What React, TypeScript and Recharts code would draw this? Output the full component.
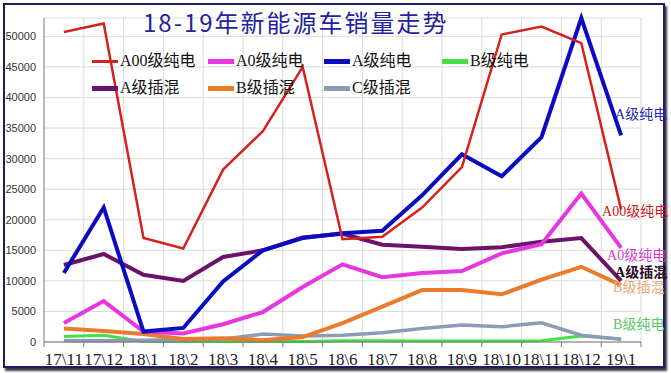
import React from "react"
import {
  LineChart,
  Line,
  XAxis,
  YAxis,
  CartesianGrid,
} from "recharts"

const categories = [
  "17\\11", "17\\12", "18\\1", "18\\2", "18\\3", "18\\4", "18\\5", "18\\6",
  "18\\7", "18\\8", "18\\9", "18\\10", "18\\11", "18\\12", "19\\1",
]

const a00Bev = [50700, 52100, 17000, 15300, 28200, 34500, 45000, 16800, 17200, 22000, 28600, 50300, 51600, 48900, 21700]
const a0Bev = [3100, 6700, 1700, 1400, 2900, 4900, 9000, 12700, 10600, 11300, 11600, 14500, 16000, 24300, 15400]
const aBev = [11300, 22000, 1700, 2300, 9900, 15000, 17000, 17800, 18200, 24000, 30700, 27100, 33500, 53000, 33800]
const bBev = [900, 1100, 100, 100, 100, 100, 100, 200, 200, 150, 150, 150, 200, 1000, 500]
const aPhev = [12600, 14400, 11000, 10000, 13900, 15000, 17100, 17700, 15900, 15600, 15200, 15500, 16400, 17000, 10000]
const bPhev = [2200, 1800, 1300, 500, 600, 300, 800, 3100, 5800, 8500, 8500, 7800, 10200, 12300, 9300]
const cPhev = [200, 200, 300, 400, 500, 1300, 1000, 1100, 1500, 2200, 2800, 2500, 3150, 1100, 450]

const yTicks = [0, 5000, 10000, 15000, 20000, 25000, 30000, 35000, 40000, 45000, 50000]

const W = 671
const H = 373
const MARGIN = { top: 18, right: 30, bottom: 0, left: 0 }
const Y_AXIS_W = 44
const STEP = (W - MARGIN.left - MARGIN.right - Y_AXIS_W) / categories.length

type Series = {
  key: string
  name: string
  color: string
  width: number
  end?: { text: string; color: string; dx: number; dy: number; bold?: boolean }
}

// legend order
const series: Series[] = [
  { key: "a00", name: "A00级纯电", color: "#d42121", width: 2.5, end: { text: "A00级纯电", color: "#c42020", dx: -19, dy: 7 } },
  { key: "a0", name: "A0级纯电", color: "#e636e0", width: 4, end: { text: "A0级纯电", color: "#d63ed0", dx: -14, dy: 12 } },
  { key: "a", name: "A级纯电", color: "#0b0bbf", width: 4, end: { text: "A级纯电", color: "#2a2aa8", dx: -6, dy: -16 } },
  { key: "b", name: "B级纯电", color: "#44e044", width: 3, end: { text: "B级纯电", color: "#56c86a", dx: -8, dy: -10 } },
  { key: "ap", name: "A级插混", color: "#6b136b", width: 4, end: { text: "A级插混", color: "#2a0f24", dx: -6, dy: -4, bold: true } },
  { key: "bp", name: "B级插混", color: "#e97b2a", width: 4, end: { text: "B级插混", color: "#eaa87a", dx: -8, dy: 7 } },
  { key: "cp", name: "C级插混", color: "#8d9cb6", width: 3.5 },
]

const drawOrder = ["b", "cp", "bp", "ap", "a0", "a", "a00"]

const data = categories.map((c, i) => ({
  cat: c,
  a00: a00Bev[i],
  a0: a0Bev[i],
  a: aBev[i],
  b: bBev[i],
  ap: aPhev[i],
  bp: bPhev[i],
  cp: cPhev[i],
}))

const serifFont = '"Liberation Serif", "Noto Sans CJK SC", serif'

function XTick(props: any) {
  const { x, y, payload, index } = props
  const bx = x + STEP / 2
  return (
    <g>
      {index === 0 && <line x1={x - STEP / 2} x2={x - STEP / 2} y1={y - 5} y2={y} stroke="#777" />}
      <line x1={bx} x2={bx} y1={y - 5} y2={y} stroke="#777" />
      <text x={x} y={y + 18} textAnchor="middle" fontSize={17} fontFamily={serifFont} fill="#222">
        {payload.value}
      </text>
    </g>
  )
}

// text next to the last point of a series
function endDot(s: Series) {
  return (props: any) => {
    const { cx, cy, index } = props
    if (!s.end || index !== categories.length - 1) return <g key={`d-${s.key}-${index}`} />
    return (
      <text
        key={`d-${s.key}-${index}`}
        x={cx + s.end.dx}
        y={cy + s.end.dy}
        fontSize={14}
        fontWeight={s.end.bold ? "bold" : "normal"}
        fontFamily={serifFont}
        fill={s.end.color}
      >
        {s.end.text}
      </text>
    )
  }
}

const legendCols = [92, 208, 324, 442]
const legendRows = [61, 88]

export default function App() {
  return (
    <div style={{ position: "absolute", left: 0, top: 0, width: W, height: H, background: "#fff" }}>
      <div
        style={{
          position: "absolute",
          left: 3,
          top: 3,
          width: 658,
          height: 361,
          border: "2px solid #1d1d5e",
          boxShadow: "2px 3px 2px #3a3a4a",
        }}
      />
      <div style={{ position: "absolute", left: 0, top: 0 }}>
        <LineChart width={W} height={H} data={data} margin={MARGIN}>
          <CartesianGrid
            stroke="#dadada"
            verticalCoordinatesGenerator={({ offset }: any) =>
              categories.map((_, i) => offset.left + (i + 1) * (offset.width / categories.length))
            }
          />
          <XAxis
            dataKey="cat"
            interval={0}
            height={31}
            padding={{ left: STEP / 2, right: STEP / 2 }}
            tickLine={false}
            tickSize={5}
            tickMargin={0}
            axisLine={{ stroke: "#777" }}
            tick={<XTick />}
          />
          <YAxis
            width={Y_AXIS_W}
            domain={[0, 53000]}
            ticks={yTicks}
            tickLine={false}
            axisLine={{ stroke: "#777" }}
            tick={{ fontSize: 11, fill: "#333", fontFamily: '"Liberation Sans", Arial, sans-serif' }}
          />
          {drawOrder.map((k) => {
            const s = series.find((t) => t.key === k)!
            return (
              <Line
                key={s.key}
                type="linear"
                dataKey={s.key}
                name={s.name}
                stroke={s.color}
                strokeWidth={s.width}
                dot={endDot(s)}
                activeDot={false}
                isAnimationActive={false}
              />
            )
          })}
        </LineChart>
      </div>
      <div
        style={{
          position: "absolute",
          left: 143,
          top: 6,
          lineHeight: "32px",
          fontSize: 24,
          letterSpacing: 2,
          color: "#23239c",
          fontFamily: '"Noto Sans CJK SC", sans-serif',
          whiteSpace: "nowrap",
        }}
      >
        18-19年新能源车销量走势
      </div>
      {series.map((s, i) => (
        <div
          key={s.key}
          style={{
            position: "absolute",
            left: legendCols[i % 4],
            top: legendRows[Math.floor(i / 4)] - 10,
            height: 20,
            display: "flex",
            alignItems: "center",
            whiteSpace: "nowrap",
          }}
        >
          <div style={{ width: 26, height: s.key === "a00" ? 3 : 5, background: s.color }} />
          <span style={{ marginLeft: 2, fontSize: 16, lineHeight: "20px", fontFamily: serifFont, color: "#111" }}>
            {s.name}
          </span>
        </div>
      ))}
    </div>
  )
}
